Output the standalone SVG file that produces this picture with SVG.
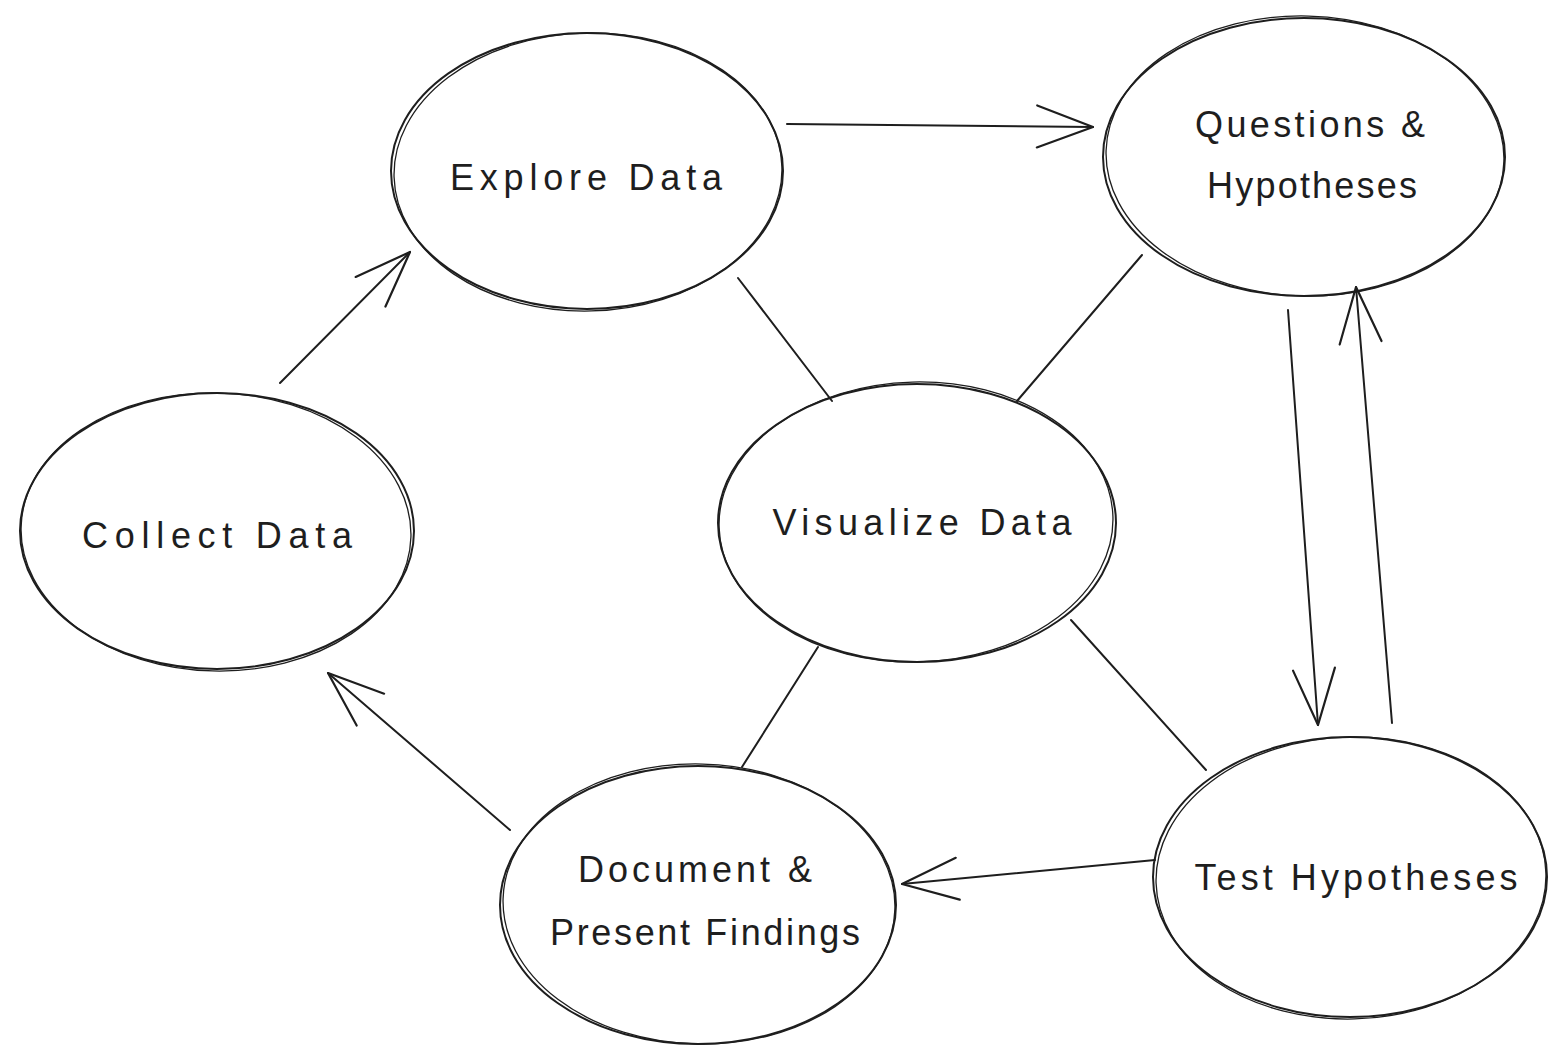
<svg xmlns="http://www.w3.org/2000/svg" width="1567" height="1064" viewBox="0 0 1567 1064">
<style>
.n{fill:none;stroke:#1e1e1e;stroke-width:2}
.n2{fill:none;stroke:#1e1e1e;stroke-width:1.3}
.t{font-family:"Liberation Sans",Arial,sans-serif;font-size:36px;fill:#1e1e1e;text-anchor:middle}
.c{fill:none;stroke:#1e1e1e;stroke-width:2;stroke-linecap:round}
.a{marker-end:url(#ah)}
</style>
<defs>
<marker id="ah" markerUnits="userSpaceOnUse" markerWidth="64" markerHeight="48" refX="60" refY="24" orient="auto" viewBox="0 0 64 48">
<path d="M4,3 L60,24 L4,45" fill="none" stroke="#1e1e1e" stroke-width="2.2" stroke-linecap="round" stroke-linejoin="round"/>
</marker>
</defs>
<rect width="1567" height="1064" fill="#ffffff"/>
<g id="connectors">
<path class="c a" d="M787,124 L1093,127"/>
<path class="c a" d="M280,383 L410,252"/>
<path class="c a" d="M1288,310 L1318,725"/>
<path class="c a" d="M1392,723 L1356,287"/>
<path class="c a" d="M1155,860 L902,884"/>
<path class="c a" d="M510,830 L328,673"/>
<path class="c" d="M738,278 L832,401"/>
<path class="c" d="M1142,255 L1017,401"/>
<path class="c" d="M818,647 L742,767"/>
<path class="c" d="M1071,620 L1206,770"/>
</g>
<g id="explore-data">
<ellipse class="n" cx="587" cy="171" rx="196" ry="138"/>
<ellipse class="n2" cx="588" cy="172" rx="194" ry="139" transform="rotate(-1.5 588 172)"/>
<text class="t" x="586" y="190" textLength="272" lengthAdjust="spacing">Explore Data</text>
</g>
<g id="questions-hypotheses">
<ellipse class="n" cx="1304" cy="157" rx="201" ry="139"/>
<ellipse class="n2" cx="1305" cy="156" rx="199" ry="140" transform="rotate(1.5 1305 156)"/>
<text class="t" x="1310" y="137" textLength="230" lengthAdjust="spacing">Questions &amp;</text>
<text class="t" x="1312" y="198" textLength="210" lengthAdjust="spacing">Hypotheses</text>
</g>
<g id="collect-data">
<ellipse class="n" cx="217" cy="531" rx="197" ry="138" stroke-width="2.5"/>
<ellipse class="n2" cx="216" cy="532" rx="195" ry="139" transform="rotate(1.5 216 532)"/>
<text class="t" x="217" y="548" textLength="270" lengthAdjust="spacing">Collect Data</text>
</g>
<g id="visualize-data">
<ellipse class="n" cx="917" cy="523" rx="199" ry="139"/>
<ellipse class="n2" cx="916" cy="522" rx="197" ry="140" transform="rotate(-1.5 916 522)"/>
<text class="t" x="922" y="535" textLength="299" lengthAdjust="spacing">Visualize Data</text>
</g>
<g id="document-present">
<ellipse class="n" cx="698" cy="905" rx="198" ry="139"/>
<ellipse class="n2" cx="699" cy="904" rx="196" ry="140" transform="rotate(1.5 699 904)"/>
<text class="t" x="695" y="882" textLength="234" lengthAdjust="spacing">Document &amp;</text>
<text class="t" x="705" y="945" textLength="310" lengthAdjust="spacing">Present Findings</text>
</g>
<g id="test-hypotheses">
<ellipse class="n" cx="1350" cy="877" rx="197" ry="140"/>
<ellipse class="n2" cx="1351" cy="878" rx="195" ry="141" transform="rotate(-1.5 1351 878)"/>
<text class="t" x="1356" y="890" textLength="323" lengthAdjust="spacing">Test Hypotheses</text>
</g>
</svg>
